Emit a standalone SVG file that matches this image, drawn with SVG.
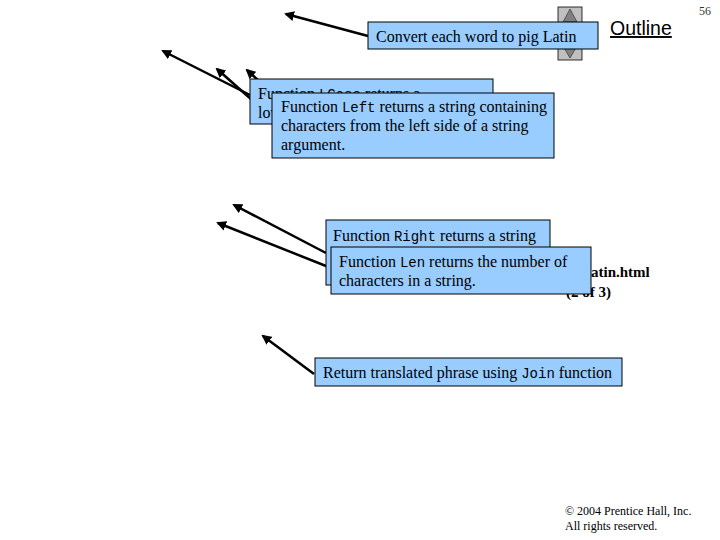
<svg xmlns="http://www.w3.org/2000/svg" width="720" height="540" viewBox="0 0 720 540">
<style>
.box{fill:#99ccff;stroke:#000;stroke-width:1}
.t{font-family:"Liberation Serif",serif;font-size:16px;fill:#000}
.m{font-family:"Liberation Mono",monospace;font-size:14px}
.c{stroke:#000;stroke-width:2.5;fill:none;marker-end:url(#ah)}
</style>
<defs>
<marker id="ah" viewBox="0 0 10 10" refX="8" refY="5" markerWidth="4" markerHeight="4" orient="auto">
<path d="M0,0 L10,5 L0,10 z" fill="#000"/>
</marker>
</defs>
<rect width="720" height="540" fill="#fff"/>
<g id="scroll">
<rect x="558" y="7" width="24" height="53" fill="#c0c0c0" stroke="#000" stroke-width="0.8"/>
<polygon points="570,9 563,22 577,22" fill="#808080" stroke="#404040" stroke-width="0.8"/>
<polygon points="570,58 563,46 577,46" fill="#808080" stroke="#404040" stroke-width="0.8"/>
</g>
<g id="outline">
<text x="610" y="35" font-family="Liberation Sans,Arial,sans-serif" font-size="19.5" text-decoration="underline">Outline</text>
<text x="699" y="15" font-family="Liberation Serif,serif" font-size="12" fill="#333">56</text>
</g>
<g id="title">
<text font-family="Liberation Serif,serif" font-size="15" font-weight="bold"><tspan x="566" y="277">Piglatin.html</tspan><tspan x="566" y="297">(2 of 3)</tspan></text>
</g>
<g id="connectors">
<line class="c" x1="368" y1="36" x2="286" y2="14"/>
<line class="c" x1="250" y1="95" x2="163" y2="51"/>
<line class="c" x1="252" y1="100" x2="217" y2="69"/>
<line class="c" x1="273" y1="94" x2="247" y2="70"/>
<line class="c" x1="326" y1="253" x2="234" y2="205"/>
<line class="c" x1="331" y1="268" x2="218" y2="223"/>
<line class="c" x1="314" y1="374" x2="263" y2="336"/>
</g>
<g id="convert">
<rect class="box" x="368" y="22" width="230" height="27"/>
<text class="t" x="376" y="42">Convert each word to pig Latin</text>
</g>
<g id="lcase">
<rect class="box" x="250" y="79" width="243" height="45"/>
<text class="t"><tspan x="258" y="99">Function <tspan class="m">LCase</tspan> returns a</tspan><tspan x="258" y="118">lowercase string</tspan></text>
</g>
<g id="left">
<rect class="box" x="272" y="93" width="282" height="65"/>
<text class="t"><tspan x="281" y="112">Function <tspan class="m">Left</tspan> returns a string containing</tspan><tspan x="281" y="131">characters from the left side of a string</tspan><tspan x="281" y="150">argument.</tspan></text>
</g>
<g id="right">
<rect class="box" x="326" y="220" width="224" height="65"/>
<text class="t"><tspan x="333" y="241">Function <tspan class="m">Right</tspan> returns a string</tspan></text>
</g>
<g id="len">
<rect class="box" x="331" y="247" width="260" height="47"/>
<text class="t"><tspan x="339" y="267">Function <tspan class="m">Len</tspan> returns the number of</tspan><tspan x="339" y="286">characters in a string.</tspan></text>
</g>
<g id="join">
<rect class="box" x="315" y="358" width="307" height="28"/>
<text class="t" x="323" y="378">Return translated phrase using <tspan class="m">Join</tspan> function</text>
</g>
<g id="copyright">
<text font-family="Liberation Serif,serif" font-size="12"><tspan x="565" y="515">© 2004 Prentice Hall, Inc.</tspan><tspan x="565" y="530">All rights reserved.</tspan></text>
</g>
</svg>
